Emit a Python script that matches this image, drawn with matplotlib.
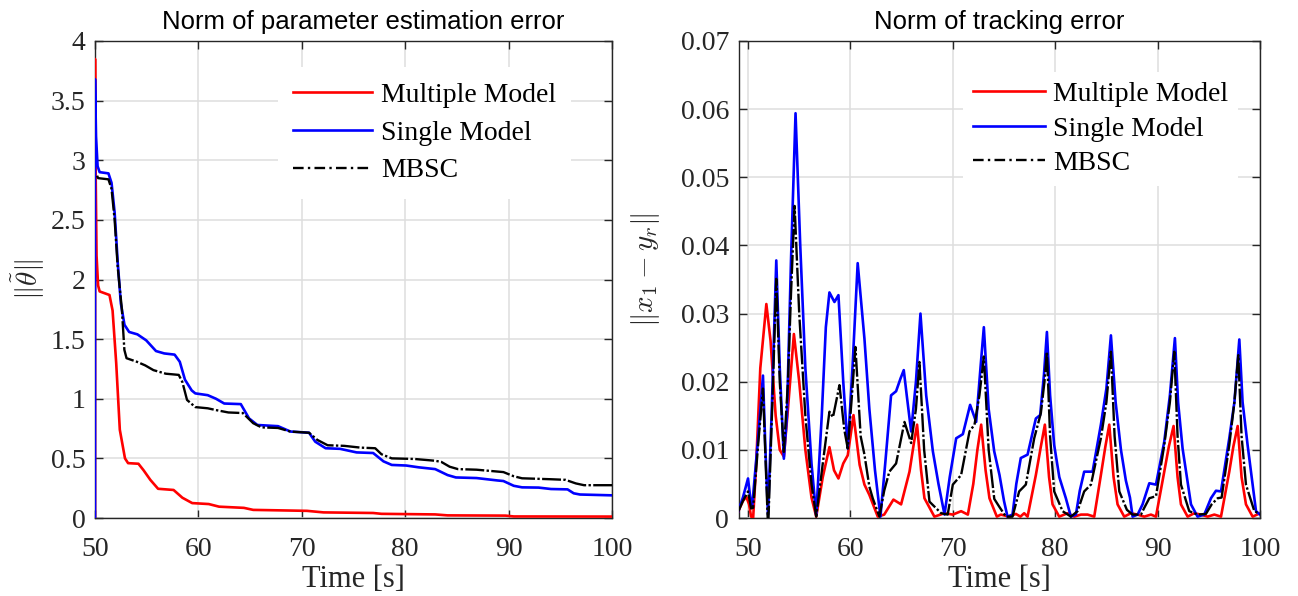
import matplotlib
matplotlib.use('Agg')
import matplotlib.pyplot as plt
from matplotlib.lines import Line2D
from matplotlib.ticker import FormatStrFormatter

plt.rcParams['mathtext.fontset'] = 'cm'
plt.rcParams['font.family'] = ['Liberation Serif', 'DejaVu Serif']

# ---------------- data: left panel (norm of parameter estimation error) -------------
t_mm_par = [50, 50.0, 50.05, 50.15, 50.3, 50.45, 51.4, 51.7, 52.05, 52.4, 52.9, 53.2,
            54.2, 54.7, 55.35, 56.1, 57.6, 58.45, 59.4, 61, 62, 64.4, 65.3, 70.5,
            72.1, 76.9, 77.7, 82.9, 84.1, 89.7, 90.5, 100]
v_mm_par = [0, 3.85, 3.0, 2.2, 1.95, 1.90, 1.87, 1.74, 1.30, 0.74, 0.50, 0.46,
            0.455, 0.40, 0.32, 0.245, 0.235, 0.17, 0.125, 0.117, 0.095, 0.085, 0.068, 0.06,
            0.047, 0.042, 0.035, 0.03, 0.022, 0.02, 0.013, 0.012]

t_sm_par = [50, 50.0, 50.1, 50.25, 50.45, 51.3, 51.6, 51.9, 52.2, 52.5, 52.85, 53.3,
            54.1, 54.95, 55.9, 56.7, 57.7, 58.2, 58.7, 59.35, 59.7, 60.9, 61.7, 62.5,
            64.1, 64.9, 65.7, 67.7, 68.9, 70.7, 71.3, 72.3, 73.7, 75.3, 76.9, 77.9,
            78.7, 80.1, 81.3, 82.9, 84.1, 84.9, 86.9, 88.9, 89.5, 90.5, 91.3, 92.9,
            94.1, 95.7, 96.3, 96.9, 100]
v_sm_par = [0, 3.68, 3.2, 2.95, 2.90, 2.89, 2.81, 2.56, 2.14, 1.80, 1.62, 1.56,
            1.54, 1.49, 1.40, 1.38, 1.37, 1.31, 1.16, 1.07, 1.045, 1.03, 1.0, 0.96,
            0.955, 0.835, 0.78, 0.77, 0.725, 0.715, 0.64, 0.585, 0.58, 0.55, 0.545, 0.475,
            0.445, 0.44, 0.425, 0.41, 0.36, 0.34, 0.335, 0.315, 0.31, 0.27, 0.257, 0.255,
            0.243, 0.24, 0.207, 0.197, 0.19]

t_mb_par = [50.2, 50.3, 51.3, 51.6, 51.9, 52.2, 52.6, 52.84, 53.05, 54.05, 54.85,
            55.65, 56.85, 58.1, 58.45, 58.9, 59.7, 60.9, 61.7, 62.9, 64.3, 65.3, 66.1,
            67.7, 68.9, 70.7, 71.5, 72.5, 74.1, 75.7, 77.1, 77.7, 78.7, 80.9, 82.9,
            83.5, 84.3, 85.1, 86.9, 89.5, 90.5, 91.3, 94.1, 95.5, 96.5, 97.3, 100]
v_mb_par = [2.87, 2.85, 2.84, 2.76, 2.5, 2.1, 1.75, 1.41, 1.34, 1.31, 1.28,
            1.24, 1.21, 1.2, 1.14, 0.99, 0.93, 0.92, 0.905, 0.885, 0.88, 0.795, 0.76,
            0.755, 0.725, 0.715, 0.655, 0.61, 0.605, 0.59, 0.585, 0.535, 0.50, 0.495, 0.48,
            0.47, 0.43, 0.41, 0.405, 0.385, 0.35, 0.333, 0.325, 0.32, 0.29, 0.275, 0.275]

# ---------------- data: right panel (norm of tracking error, in 1e-3) ----------------
t_mm_trk = [49.03, 49.5, 49.84, 50.1, 50.3, 50.5, 50.8, 51.2, 51.79, 52.2, 52.7, 53.1,
            53.5, 53.9, 54.48, 55.0, 55.6, 56.2, 56.66, 57.3, 57.95, 58.4, 58.83, 59.3,
            59.74, 60.3, 60.9, 61.37, 61.85, 62.67, 63.3, 64.2, 64.95, 65.77, 66.2, 66.51,
            66.9, 67.23, 68.2, 69.19, 70.0, 70.81, 71.47, 72.0, 72.4, 72.77, 73.2, 73.58,
            74.3, 74.69, 75.5, 76.16, 76.6, 76.97, 77.3, 78.11, 78.6, 78.99, 79.4, 79.74,
            80.39, 81.21, 81.86, 82.51, 83.16, 83.81, 84.46, 84.9, 85.28, 85.7, 86.09, 86.74,
            87.39, 88.05, 88.7, 89.35, 89.84, 90.65, 91.1, 91.56, 91.95, 92.28, 92.93, 93.58,
            94.23, 94.89, 95.54, 96.19, 97.0, 97.4, 97.82, 98.2, 98.63, 99.28, 100]
v_mm_trk = [0.9, 2.5, 3.1, 2.0, 0.2, 0.0, 8, 22, 31.4, 26, 15, 10,
            9.0, 16, 27.0, 20, 10, 3, 0.2, 6, 10.4, 7, 5.8, 8,
            9.2, 15.1, 7.8, 4.9, 3.4, 0.2, 0.5, 2.7, 2.0, 6.8, 11, 13.7,
            7, 2.9, 0.2, 0.7, 0.5, 1.0, 0.5, 5, 10, 13.7, 7, 2.9,
            0.2, 0.5, 0.2, 0.6, 0.2, 0.7, 0.2, 6.3, 10.5, 13.7, 6, 2.0,
            0.2, 0.7, 0.2, 0.5, 0.5, 0.2, 6.3, 10.5, 13.7, 6, 2.0, 0.2,
            0.7, 0.5, 0.2, 0.5, 0.2, 6.8, 10.5, 13.5, 6, 2.0, 0.2, 0.7,
            0.5, 0.2, 0.5, 0.2, 6.8, 10.5, 13.5, 6, 2.0, 0.2, 0.7]

t_sm_trk = [49.03, 49.5, 50.0, 50.3, 50.4, 51.0, 51.46, 51.7, 51.95, 52.3, 52.76, 53.1,
            53.5, 53.8, 54.2, 54.64, 55.1, 55.6, 56.2, 56.66, 57.2, 57.6, 57.95, 58.44,
            58.83, 59.3, 59.74, 60.2, 60.71, 61.37, 61.85, 62.4, 62.93, 63.4, 63.97, 64.46,
            64.9, 65.21, 65.5, 65.93, 66.4, 66.84, 67.4, 68.05, 68.6, 69.19, 69.7, 70.33,
            70.98, 71.69, 72.28, 72.7, 73.03, 73.5, 74.04, 74.56, 75.0, 75.34, 75.83, 76.2,
            76.64, 77.3, 78.11, 78.53, 78.9, 79.19, 79.5, 79.9, 80.4, 81.04, 81.53, 82.02,
            82.4, 82.83, 83.65, 84.46, 85.0, 85.44, 85.9, 86.42, 86.9, 87.3, 87.56, 88.05,
            88.53, 89.19, 89.84, 90.65, 91.2, 91.69, 92.0, 92.44, 93.26, 93.9, 94.56, 95.21,
            95.7, 96.19, 97.0, 97.5, 97.98, 98.3, 98.79, 99.61, 100]
v_sm_trk = [0.9, 3.0, 5.8, 1.9, 1.6, 12, 20.9, 10, 0.5, 15, 37.8, 22,
            8.7, 15, 38, 59.4, 40, 22, 8, 0.4, 15, 28, 33.1, 31.7,
            32.7, 20, 10.2, 22, 37.4, 26.3, 16.0, 7, 0.2, 8, 18.0, 18.6,
            20.5, 21.7, 18, 12.7, 20, 30.0, 18, 9.8, 5, 0.5, 6, 11.7,
            12.3, 16.6, 14.1, 22, 28.0, 16, 9.8, 6.3, 2.5, 0.2, 0.5, 5,
            8.8, 9.3, 14.6, 15.1, 21, 27.3, 18, 10.7, 6, 2.9, 0.2, 0.5,
            4, 6.8, 6.8, 13.7, 19, 26.8, 17, 10, 5.5, 3.0, 0.2, 0.5,
            2.0, 5.1, 4.9, 11.2, 18, 26.4, 17, 10.2, 2.0, 0.2, 0.5, 2.9,
            4.0, 3.9, 11.7, 17, 26.2, 17, 10.7, 1.0, 0.5]

t_mb_trk = [49.03, 49.5, 50.0, 50.3, 50.5, 51.0, 51.46, 51.7, 51.92, 52.0, 52.4, 52.76,
            53.1, 53.5, 53.9, 54.2, 54.55, 55.0, 55.6, 56.2, 56.66, 57.3, 57.95, 58.3,
            58.93, 59.4, 59.74, 60.1, 60.49, 61.0, 61.37, 61.85, 62.18, 62.83, 63.3, 63.8,
            64.46, 65.28, 65.93, 66.4, 66.74, 67.2, 67.72, 68.86, 69.5, 70.0, 70.81, 71.63,
            72.12, 72.6, 73.03, 73.5, 74.05, 74.56, 75.18, 75.83, 76.48, 77.13, 77.95, 78.6,
            78.95, 79.19, 79.5, 79.9, 80.72, 81.53, 82.18, 82.83, 83.49, 84.46, 85.0, 85.44,
            85.8, 86.26, 87.0, 87.56, 88.37, 88.7, 89.19, 89.84, 90.65, 91.2, 91.63, 91.95,
            92.28, 93.09, 93.9, 94.72, 95.28, 95.86, 96.25, 97.0, 97.5, 97.88, 98.2, 98.63,
            99.45, 100]
v_mb_trk = [0.9, 2.5, 3.9, 1.4, 1.5, 11, 19.0, 9, 0.0, 0.0, 18, 35.1,
            20, 9.7, 20, 33, 45.8, 30, 15, 5, 0.2, 8, 15.6, 14.8,
            19.5, 13, 10.2, 17, 25.1, 12, 9.3, 4.6, 2.9, 0.2, 4, 6.8,
            8.0, 14.1, 11.0, 16, 22.9, 10, 2.4, 0.7, 0.5, 4.9, 6.3, 12.7,
            13.7, 18, 23.7, 10, 2.8, 1.6, 0.2, 0.2, 3.9, 4.9, 11.7, 15.4,
            20, 24.4, 12, 3.9, 1.0, 0.2, 1.0, 3.9, 4.9, 11.7, 17, 24.4,
            12, 3.9, 1.2, 0.5, 0.5, 1.5, 2.9, 3.2, 10.7, 17, 24.4, 12,
            4.9, 1.0, 0.5, 0.6, 2.0, 2.9, 3.0, 10.7, 17, 23.9, 12, 4.9,
            1.0, 0.6]

labels = ['Multiple Model', 'Single Model', 'MBSC']
left_yticks = [0, 0.5, 1, 1.5, 2, 2.5, 3, 3.5, 4]
right_yticks = [0, 0.01, 0.02, 0.03, 0.04, 0.05, 0.06, 0.07]
xticks = [50, 60, 70, 80, 90, 100]

RED, BLUE, BLACK = '#ff0000', '#0000ff', '#000000'
GRID = '#dedede'
AXC = '#262626'
LW = 1.9
LWK = 1.7
LINE_DASH = (0, (8, 1.0, 1, 1.0))
LEG_DASH = (0, (4.5, 1.8, 1, 1.8))

fig = plt.figure(figsize=(12.98, 5.96), dpi=100)
ax1 = fig.add_axes([95 / 1298, 78 / 596, 517 / 1298, 477 / 596])
ax2 = fig.add_axes([738.6 / 1298, 78 / 596, 521.4 / 1298, 477 / 596])


def style(ax):
    ax.grid(True, color=GRID, linewidth=1.1)
    ax.set_axisbelow(True)
    ax.tick_params(direction='in', top=True, right=True, length=6, width=1,
                   labelsize=20, colors=AXC)
    ax.tick_params(axis='x', pad=14)
    ax.tick_params(axis='y', pad=7)
    for s in ax.spines.values():
        s.set_color(AXC)
        s.set_linewidth(1)


legend_handles = [Line2D([], [], color=RED, lw=LW),
                  Line2D([], [], color=BLUE, lw=LW),
                  Line2D([], [], color=BLACK, lw=LWK, linestyle=LEG_DASH)]

# left panel
ax1.plot(t_mm_par, v_mm_par, color=RED, lw=LW, zorder=3)
ax1.plot(t_sm_par, v_sm_par, color=BLUE, lw=LW, zorder=3)
ax1.plot(t_mb_par, v_mb_par, color=BLACK, lw=LWK, linestyle=LINE_DASH, zorder=3)
ax1.set_xlim(50, 100)
ax1.set_ylim(0, 4)
ax1.set_xticks(xticks)
ax1.set_yticks(left_yticks)
ax1.yaxis.set_major_formatter(FormatStrFormatter('%g'))
style(ax1)
ax1.set_title('Norm of parameter estimation error', fontfamily='Liberation Sans',
              fontsize=18.5, pad=9, x=0.518, color='black')
ax1.set_xlabel('Time [s]', fontsize=22, labelpad=2, color=AXC)
ax1.set_ylabel(r'$\|\tilde{\theta}\|$', fontsize=21, color=AXC)
ax1.yaxis.set_label_coords(-0.093, 0.499)
ax1.legend(legend_handles, labels, loc='upper left', bbox_to_anchor=(0.354, 0.945),
           frameon=True, fancybox=False, edgecolor='none', facecolor='white',
           framealpha=1, fontsize=20, handlelength=2.85, handletextpad=0.3,
           labelspacing=0.44, borderpad=0.55, borderaxespad=0)

# right panel
trk = [[v / 1000 for v in s] for s in (v_mm_trk, v_sm_trk, v_mb_trk)]
ax2.plot(t_mm_trk, trk[0], color=RED, lw=LW, zorder=3)
ax2.plot(t_sm_trk, trk[1], color=BLUE, lw=LW, zorder=3)
ax2.plot(t_mb_trk, trk[2], color=BLACK, lw=LWK, linestyle=LINE_DASH, zorder=3)
ax2.set_xlim(49.08, 100)
ax2.set_ylim(0, 0.07)
ax2.set_xticks(xticks)
ax2.set_yticks(right_yticks)
ax2.yaxis.set_major_formatter(FormatStrFormatter('%g'))
style(ax2)
ax2.set_title('Norm of tracking error', fontfamily='Liberation Sans',
              fontsize=18.5, pad=9, color='black')
ax2.set_xlabel('Time [s]', fontsize=22, labelpad=2, color=AXC)
ax2.set_ylabel(r'$\|x_1 - y_r\|$', fontsize=21, color=AXC)
ax2.yaxis.set_label_coords(-0.147, 0.52)
ax2.legend(legend_handles, labels, loc='upper left', bbox_to_anchor=(0.4305, 0.935),
           frameon=True, fancybox=False, edgecolor='none', facecolor='white',
           framealpha=1, fontsize=20, handlelength=2.6, handletextpad=0.3,
           labelspacing=0.32, borderpad=0.35, borderaxespad=0)

fig.savefig('out.png', dpi=100)
